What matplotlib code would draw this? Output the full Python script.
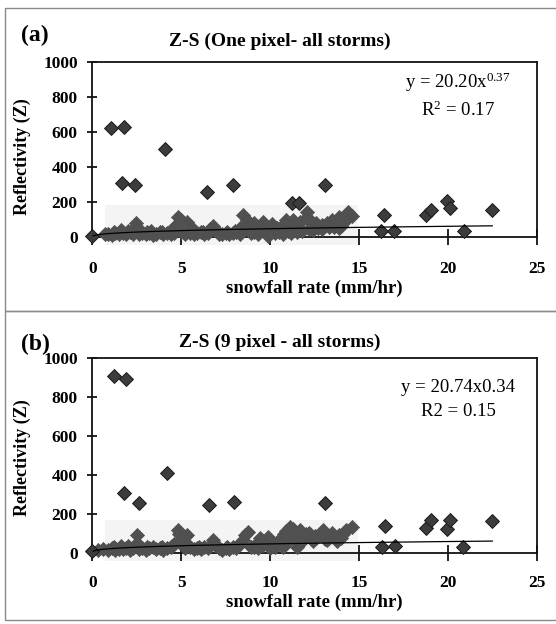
import numpy as np
import matplotlib
matplotlib.use("Agg")
import matplotlib.pyplot as plt
from matplotlib.patches import Rectangle

plt.rcParams['font.family'] = ['Liberation Serif', 'DejaVu Serif']
plt.rcParams['mathtext.fontset'] = 'custom'
plt.rcParams['mathtext.rm'] = 'Liberation Serif'
plt.rcParams['mathtext.it'] = 'Liberation Serif:italic'
plt.rcParams['mathtext.bf'] = 'Liberation Serif:bold'

# ---------------- data: panel (a) one pixel ----------------
a_out_x = [0.0, 1.03, 1.80, 4.09, 1.66, 2.42, 6.47, 7.93, 11.25, 11.6, 13.09,
           16.4, 16.25, 16.95, 18.75, 19.05, 19.95, 20.1, 20.9, 22.5]
a_out_y = [5, 621, 630, 503, 307, 297, 259, 300, 196, 192, 300,
           126, 34, 34, 128, 154, 208, 168, 34, 152]
a_cl_x = [0.7, 0.9, 1.1, 1.3, 1.5, 1.6, 1.7, 1.9, 2.1, 2.3, 2.45, 2.5, 2.6, 2.8, 3.0,
          3.2, 3.3, 3.4, 3.6, 3.8, 4.0, 4.2, 4.4, 4.6, 4.6, 4.8, 5.0, 5.0, 5.2, 5.3,
          5.5, 5.6, 5.7, 5.9, 6.1, 6.3, 6.5, 6.6, 6.8, 6.9, 7.1, 7.3, 7.5, 7.7, 7.9,
          8.1, 8.3, 8.3, 8.5, 8.6, 8.7, 8.9, 9.1, 9.1, 9.3, 9.5, 9.6, 9.7, 9.9, 10.0,
          10.1, 10.3, 10.5, 10.7, 10.7, 10.9, 11.0, 11.1, 11.2, 11.3, 11.5, 11.6, 11.7,
          11.8, 12.0, 12.1, 12.2, 12.3, 12.4, 12.6, 12.7, 12.9, 12.9, 13.2, 13.3, 13.5,
          13.6, 13.7, 13.9, 13.9, 14.0, 14.2, 14.3, 14.4, 14.6,
          1.2, 2.0, 3.1, 3.9, 4.9, 5.4, 6.2, 7.0, 7.6, 8.0, 8.8, 9.4, 10.4, 10.8, 11.4,
          12.5, 13.0, 13.4, 14.1]
a_cl_y = [15, 20, 12, 25, 18, 40, 22, 15, 28, 20, 80, 55, 18, 25, 15,
          22, 35, 12, 20, 28, 15, 22, 18, 60, 25, 115, 100, 30, 20, 85,
          25, 50, 15, 22, 28, 18, 25, 45, 62, 40, 20, 15, 25, 18, 22,
          30, 50, 20, 125, 70, 100, 25, 80, 30, 20, 65, 85, 35, 5, 40,
          75, 25, 30, 70, 20, 97, 35, 60, 25, 100, 30, 40, 85,
          35, 110, 145, 45, 90, 40, 82, 50, 70, 45, 78, 55, 95,
          60, 70, 116, 50, 65, 120, 100, 145, 118,
          30, 32, 28, 30, 45, 35, 30, 32, 30, 35, 45, 40, 50, 45, 55,
          60, 55, 65, 85]
a_coef, a_exp = 20.20, 0.37

# ---------------- data: panel (b) 9 pixel ----------------
b_out_x = [0.0, 1.21, 1.90, 4.21, 1.77, 2.60, 6.57, 7.96, 13.1,
           16.45, 16.28, 17.03, 18.8, 19.08, 19.93, 20.1, 20.87, 22.5]
b_out_y = [10, 910, 892, 408, 309, 254, 245, 259, 258,
           139, 31, 33, 125, 168, 124, 168, 31, 165]
b_cl_x = [0.3, 0.6, 0.9, 1.1, 1.3, 1.5, 1.6, 1.7, 1.9, 2.1, 2.3, 2.5, 2.5, 2.6, 2.8,
          3.0, 3.2, 3.4, 3.6, 3.8, 4.0, 4.2, 4.4, 4.6, 4.8, 4.9, 5.0, 5.2, 5.3, 5.5,
          5.7, 5.9, 6.1, 6.3, 6.5, 6.8, 6.9, 7.1, 7.3, 7.5, 7.7, 7.9, 8.1, 8.3, 8.48,
          8.6, 8.76, 8.9, 9.1, 9.3, 9.43, 9.6, 9.9, 10.0, 10.0, 10.3, 10.5, 10.7, 10.7,
          10.9, 11.0, 11.1, 11.2, 11.3, 11.4, 11.5, 11.6, 11.7, 11.8, 12.0, 12.2, 12.3,
          12.4, 12.6, 12.8, 12.96, 13.1, 13.4, 13.5, 13.75, 13.9, 14.0, 14.3, 14.6,
          1.2, 2.0, 3.1, 3.9, 4.5, 5.4, 6.0, 7.0, 7.6, 8.2, 9.2, 10.4, 10.8, 11.3,
          11.9, 12.5, 13.2, 14.1]
b_cl_y = [12, 18, 15, 22, 12, 20, 35, 18, 25, 15, 22, 91, 50, 18, 25,
          15, 22, 30, 18, 25, 15, 22, 30, 45, 117, 95, 60, 25, 91, 30,
          20, 25, 18, 28, 22, 65, 40, 22, 15, 25, 20, 28, 25, 45, 65,
          90, 108, 30, 30, 25, 74, 40, 82, 23, 55, 30, 45, 75, 30,
          110, 60, 134, 90, 120, 70, 31, 100, 117, 60, 95, 100, 80,
          58, 75, 90, 117, 70, 82, 100, 58, 91, 75, 117, 134,
          30, 32, 30, 28, 35, 40, 30, 35, 30, 40, 45, 55, 95, 80,
          70, 85, 65, 95]
b_coef, b_exp = 20.74, 0.34

xticks = [0, 5, 10, 15, 20, 25]
yticks = [0, 200, 400, 600, 800, 1000]

W, H = 556, 624
fig = plt.figure(figsize=(W / 100, H / 100), dpi=100)
fig.patch.set_facecolor('white')

# panel frames
for (top, bot) in [(8, 311), (311, 620)]:
    fig.add_artist(Rectangle((5 / W, 1 - bot / H), 1.2, (bot - top) / H,
                             transform=fig.transFigure, fill=False,
                             edgecolor='#8a8a8a', linewidth=1.0))


def fx(px):
    return px / W


def fy(py):
    return 1 - py / H


def make_panel(ax_top, ax_bot, cl_x, cl_y, out_x, out_y, coef, expo,
               letter, letter_y, title, title_y, eq1, eq2, eq1_y, eq2_y,
               patch_top, xlab_pad, ylab_y):
    left, right = 92.3, 536.7
    ax = fig.add_axes([fx(left), fy(ax_bot), (right - left) / W, (ax_bot - ax_top) / H])
    ax.set_xlim(0, 25)
    ax.set_ylim(0, 1000)
    # faint scan patch
    ax.add_patch(Rectangle((0.7, -45), 14.25, patch_top + 45, facecolor='#f4f4f4',
                           edgecolor='none', clip_on=False, zorder=0))
    ax.scatter(cl_x, cl_y, marker='D', s=52, facecolor='#505050', edgecolor='#505050',
               linewidth=0.5, zorder=3, clip_on=False)
    ax.scatter(out_x, out_y, marker='D', s=50, facecolor='#3c3c3c', edgecolor='#1a1a1a',
               linewidth=0.7, zorder=3, clip_on=False)
    xs = np.linspace(0.05, max(out_x), 400)
    ax.plot(xs, coef * xs ** expo, color='black', linewidth=0.9, zorder=4)
    ax.set_xticks(xticks)
    ax.set_yticks(yticks)
    ax.tick_params(axis='y', direction='inout', length=7, width=1.2, pad=7,
                   labelsize=12.5)
    ax.tick_params(axis='x', direction='inout', length=12, width=1.2, pad=xlab_pad,
                   labelsize=12.5)
    for lab in ax.get_xticklabels() + ax.get_yticklabels():
        lab.set_fontweight('bold')
    for sp in ax.spines.values():
        sp.set_linewidth(1.3)
        sp.set_color('#111111')
    ax.set_xlabel('snowfall rate (mm/hr)', fontsize=13.5, fontweight='bold', labelpad=2)
    ax.set_ylabel('Reflectivity (Z)', fontsize=13, fontweight='bold')
    ax.yaxis.set_label_coords(-0.138, ylab_y)
    fig.text(fx(35), fy(letter_y), letter, fontsize=17, fontweight='bold',
             ha='center', va='center')
    fig.text(fx(280), fy(title_y), title, fontsize=14, fontweight='bold',
             ha='center', va='center')
    fig.text(fx(458), fy(eq1_y), eq1, fontsize=13.5, ha='center', va='center')
    fig.text(fx(458), fy(eq2_y), eq2, fontsize=13.5, ha='center', va='center')
    return ax


make_panel(62, 237, a_cl_x, a_cl_y, a_out_x, a_out_y, a_coef, a_exp,
           '(a)', 35, 'Z-S (One pixel- all storms)', 41,
           'y = 20.20x$^{0.37}$', 'R$^{2}$ = 0.17', 82, 110,
           183, 11, 0.46)
make_panel(358.3, 552.7, b_cl_x, b_cl_y, b_out_x, b_out_y, b_coef, b_exp,
           '(b)', 344, 'Z-S (9 pixel - all storms)', 342,
           'y = 20.74x0.34', 'R2 = 0.15', 387, 412,
           168, 10, 0.49)

fig.savefig('out.png', dpi=100)
